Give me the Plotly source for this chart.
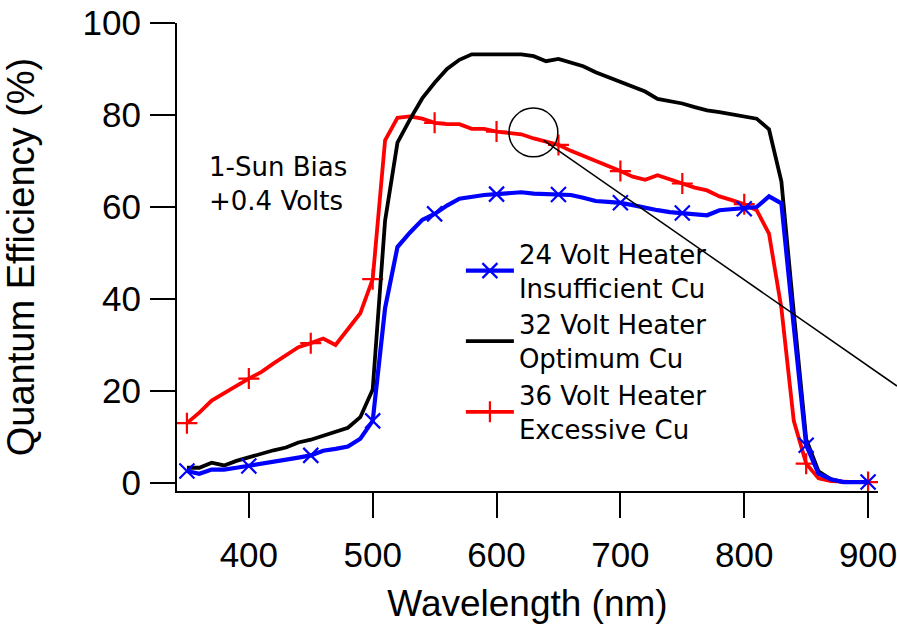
import plotly.graph_objects as go

wavelength = [350, 360, 370, 380, 390, 400, 410, 420, 430, 440,
              450, 460, 470, 480, 490, 500, 510, 520, 530, 540,
              550, 560, 570, 580, 590, 600, 610, 620, 630, 640,
              650, 660, 670, 680, 690, 700, 710, 720, 730, 740,
              750, 760, 770, 780, 790, 800, 810, 820, 830, 840,
              850, 860, 870, 880, 890, 900]

qe_24v = [2.6, 2.0, 2.9, 2.9, 3.3, 3.7, 4.2, 4.6, 5.0, 5.5,
          6.0, 7.0, 7.4, 7.9, 9.6, 13.5, 38.0, 51.3, 54.4, 57.2,
          58.5, 60.3, 61.8, 62.3, 62.6, 62.8, 63.1, 63.2, 62.9, 62.8,
          62.7, 62.6, 62.0, 61.3, 61.1, 60.9, 60.4, 59.8, 59.3, 58.9,
          58.7, 58.5, 58.2, 59.3, 59.5, 59.6, 60.0, 62.3, 60.8, 34.0,
          8.2, 2.0, 0.8, 0.2, 0.2, 0.2]

qe_32v = [3.3, 3.3, 4.4, 3.8, 4.8, 5.6, 6.3, 7.1, 7.7, 8.8,
          9.4, 10.3, 11.2, 12.0, 14.3, 20.3, 57.0, 74.0, 79.0, 83.6,
          87.0, 90.0, 92.0, 93.2, 93.2, 93.2, 93.2, 93.2, 92.8, 91.7,
          92.2, 91.4, 90.6, 89.3, 88.2, 87.2, 86.2, 85.1, 83.5, 83.0,
          82.5, 81.7, 81.0, 80.6, 80.2, 79.7, 79.2, 76.9, 65.5, 37.0,
          9.5, 2.5, 0.8, 0.2, 0.2, 0.2]

qe_36v = [13.0, 15.3, 17.9, 19.4, 21.1, 22.7, 24.1, 26.0, 27.8, 29.5,
          30.4, 31.4, 30.0, 33.4, 36.9, 44.3, 74.5, 79.4, 79.7, 79.2,
          78.3, 78.0, 78.0, 77.0, 77.0, 76.4, 76.2, 75.8, 74.9, 74.3,
          73.5, 72.2, 71.1, 70.2, 69.0, 67.8, 66.6, 65.9, 66.9, 66.0,
          65.1, 64.2, 63.6, 62.3, 61.5, 60.6, 59.3, 54.2, 38.0, 13.5,
          4.2, 1.0, 0.4, 0.2, 0.2, 0.2]

series_names = ["24 Volt Heater<br>Insufficient Cu",
                "32 Volt Heater<br>Optimum Cu",
                "36 Volt Heater<br>Excessive Cu"]

x_ticks = [400, 500, 600, 700, 800, 900]
y_ticks = [0, 20, 40, 60, 80, 100]

FONT = "Liberation Sans, Arial, sans-serif"
FONT2 = "DejaVu Sans, sans-serif"

# marker every 50 nm
mk_idx = [i for i, w in enumerate(wavelength) if w % 50 == 0]
mk_x = [wavelength[i] for i in mk_idx]

styles = {
    "blue": dict(y=qe_24v, color="#0000ff", width=4.2, symbol="x-thin-open", size=15, name=series_names[0]),
    "black": dict(y=qe_32v, color="#000000", width=3.8, symbol=None, size=0, name=series_names[1]),
    "red": dict(y=qe_36v, color="#ff0000", width=3.8, symbol="cross-thin-open", size=15, name=series_names[2]),
}

fig = go.Figure()

for key in ["red", "black", "blue"]:
    s = styles[key]
    fig.add_trace(go.Scatter(x=wavelength, y=s["y"], mode="lines",
                             line=dict(color=s["color"], width=s["width"]),
                             showlegend=False, hoverinfo="skip"))
    if s["symbol"]:
        fig.add_trace(go.Scatter(x=mk_x, y=[s["y"][i] for i in mk_idx], mode="markers",
                                 marker=dict(symbol=s["symbol"], size=s["size"],
                                             color=s["color"],
                                             line=dict(color=s["color"], width=2.2)),
                                 showlegend=False, hoverinfo="skip"))

for key in ["blue", "black", "red"]:
    s = styles[key]
    if s["symbol"]:
        fig.add_trace(go.Scatter(x=[None], y=[None], mode="lines+markers", name=s["name"],
                                 line=dict(color=s["color"], width=s["width"]),
                                 marker=dict(symbol=s["symbol"], size=s["size"], color=s["color"],
                                             line=dict(color=s["color"], width=2.2))))
    else:
        fig.add_trace(go.Scatter(x=[None], y=[None], mode="lines", name=s["name"],
                                 line=dict(color=s["color"], width=s["width"])))

fig.update_layout(
    width=897, height=628,
    margin=dict(l=177, r=19, t=23, b=137),
    paper_bgcolor="white", plot_bgcolor="white",
    font=dict(family=FONT, color="black"),
    showlegend=True,
    legend=dict(x=0.405, y=0.557, xanchor="left", yanchor="top",
                font=dict(size=26, family=FONT2, color="black"),
                bgcolor="rgba(0,0,0,0)", borderwidth=0, tracegroupgap=0,
                itemwidth=48),
    xaxis=dict(range=[342, 908], tickvals=x_ticks, ticks="outside", ticklen=25, tickwidth=2,
               tickcolor="black", showline=True, linewidth=2, linecolor="black",
               showgrid=False, zeroline=False, tickfont=dict(size=35, family=FONT),
               automargin=False, ticklabelstandoff=7, ticklabeloverflow="allow",
               title=dict(text="Wavelength (nm)", font=dict(size=37, family=FONT), standoff=17)),
    yaxis=dict(range=[-1.75, 100], tickvals=y_ticks, ticks="outside", ticklen=25, tickwidth=2,
               tickcolor="black", showline=True, linewidth=2, linecolor="black",
               showgrid=False, zeroline=False, tickfont=dict(size=35, family=FONT),
               automargin=False, ticklabelstandoff=2, ticklabeloverflow="allow",
               title=dict(text="Quantum Efficiency (%)", font=dict(size=38, family=FONT), standoff=40)),
    annotations=[dict(text="1-Sun Bias<br>+0.4 Volts", xref="paper", yref="paper",
                      x=0.043, y=0.655, xanchor="left", yanchor="middle", align="left",
                      showarrow=False, font=dict(size=26, family=FONT2, color="black"))],
    shapes=[
        dict(type="circle", xref="x", yref="y", x0=610, x1=649.5, y0=70.9, y1=81.5,
             line=dict(color="black", width=1.5)),
        dict(type="line", xref="paper", yref="paper", x0=0.5231, y0=0.7493, x1=1.0271, y1=0.2243,
             line=dict(color="black", width=1.5)),
    ],
)

fig.write_html("out.html", config={"displayModeBar": False},
               post_script="document.body.style.margin='0';")
